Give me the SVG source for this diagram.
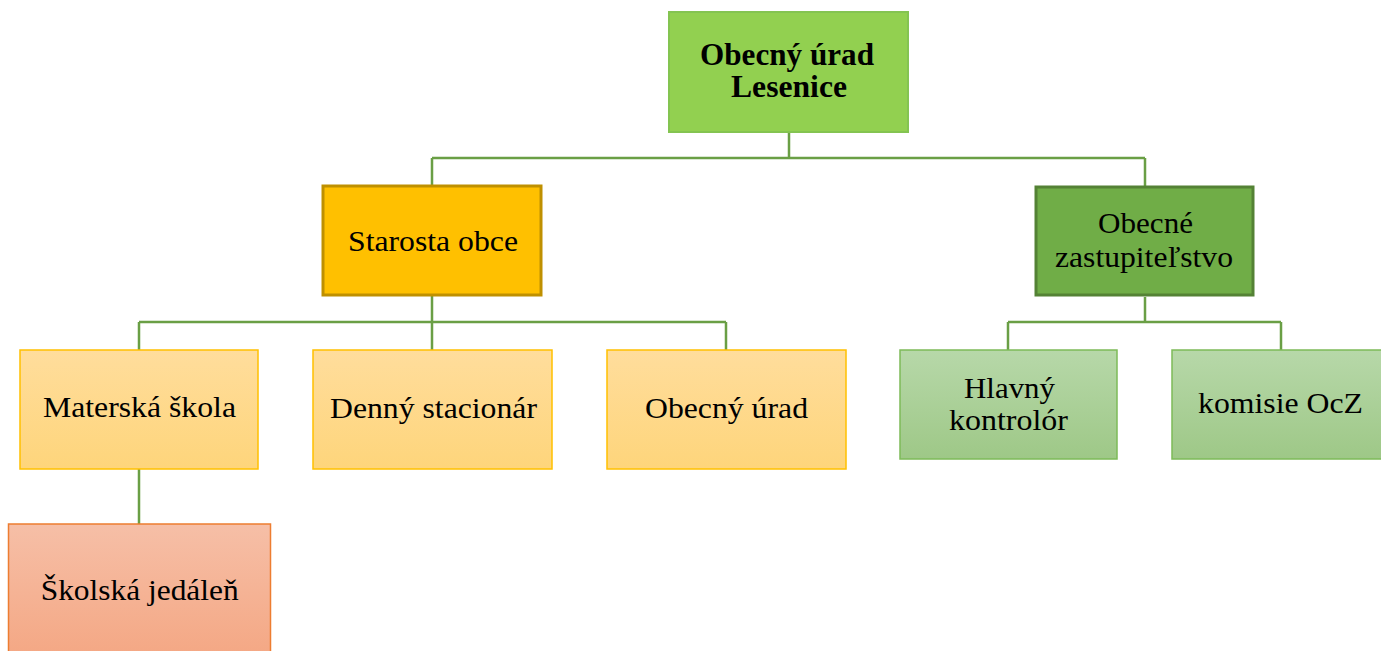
<svg xmlns="http://www.w3.org/2000/svg" width="1381" height="651" viewBox="0 0 1381 651">
<defs>
<linearGradient id="gOr" x1="0" y1="0" x2="0" y2="1"><stop offset="0" stop-color="#ffdd9c"/><stop offset="1" stop-color="#fed57b"/></linearGradient>
<linearGradient id="gRd" x1="0" y1="0" x2="0" y2="1"><stop offset="0" stop-color="#f6bfa7"/><stop offset="1" stop-color="#f4a682"/></linearGradient>
<linearGradient id="gGr" x1="0" y1="0" x2="0" y2="1"><stop offset="0" stop-color="#b7d8a9"/><stop offset="1" stop-color="#9ec887"/></linearGradient>
<style>
text{font-family:"Liberation Serif","Times New Roman",serif;font-size:29px;fill:#000;text-anchor:middle}
.b{font-weight:bold;font-size:31px}
.con{fill:none;stroke:#6a9f45;stroke-width:2.5}
.top{fill:#92d050;stroke:#84c451;stroke-width:2}
.sta{fill:#ffc000;stroke:#bf9000;stroke-width:3}
.zas{fill:#70ad47;stroke:#548235;stroke-width:3}
.or{fill:url(#gOr);stroke:#ffc000;stroke-width:1.5}
.rd{fill:url(#gRd);stroke:#ed7d31;stroke-width:1.5}
.gr{fill:url(#gGr);stroke:#7dbb58;stroke-width:1.5}
</style>
</defs>
<rect width="1381" height="651" fill="#fff"/>
<g id="connectors">
<path class="con" d="M789,132V158M432,158H1145M432,158V186M1145,158V186"/>
<path class="con" d="M432,295V322M139,322H726M139,322V350M432,322V350M726,322V350M139,469V524"/>
<path class="con" d="M1145,297V322M1008,322H1281M1008,322V350M1281,322V350"/>
</g>
<g id="n-top">
<rect class="top" x="669" y="12" width="239" height="120"/>
<text class="b" x="787" y="65" textLength="174" lengthAdjust="spacingAndGlyphs">Obecný úrad</text>
<text class="b" x="789" y="97" textLength="116" lengthAdjust="spacingAndGlyphs">Lesenice</text>
</g>
<g id="n-starosta">
<rect class="sta" x="323" y="186" width="218" height="109"/>
<text x="433" y="251" textLength="170" lengthAdjust="spacingAndGlyphs">Starosta obce</text>
</g>
<g id="n-zastupitelstvo">
<rect class="zas" x="1036" y="187" width="217" height="108"/>
<text x="1145.5" y="233" textLength="95" lengthAdjust="spacingAndGlyphs">Obecné</text>
<text x="1144" y="267" textLength="178" lengthAdjust="spacingAndGlyphs">zastupiteľstvo</text>
</g>
<g id="n-materska">
<rect class="or" x="20" y="350" width="238" height="119"/>
<text x="139.5" y="417" textLength="193" lengthAdjust="spacingAndGlyphs">Materská škola</text>
</g>
<g id="n-denny">
<rect class="or" x="313" y="350" width="239" height="119"/>
<text x="433.5" y="418" textLength="207" lengthAdjust="spacingAndGlyphs">Denný stacionár</text>
</g>
<g id="n-urad">
<rect class="or" x="607" y="350" width="239" height="119"/>
<text x="726.5" y="418" textLength="163" lengthAdjust="spacingAndGlyphs">Obecný úrad</text>
</g>
<g id="n-jedalen">
<rect class="rd" x="8.5" y="524" width="262" height="140"/>
<text x="139.7" y="600" textLength="198" lengthAdjust="spacingAndGlyphs">Školská jedáleň</text>
</g>
<g id="n-kontrolor">
<rect class="gr" x="900" y="350" width="217" height="109"/>
<text x="1009.5" y="398" textLength="91" lengthAdjust="spacingAndGlyphs">Hlavný</text>
<text x="1008.5" y="430" textLength="119" lengthAdjust="spacingAndGlyphs">kontrolór</text>
</g>
<g id="n-komisie">
<rect class="gr" x="1172" y="350" width="230" height="109"/>
<text x="1280.5" y="413" textLength="165" lengthAdjust="spacingAndGlyphs">komisie OcZ</text>
</g>
</svg>
